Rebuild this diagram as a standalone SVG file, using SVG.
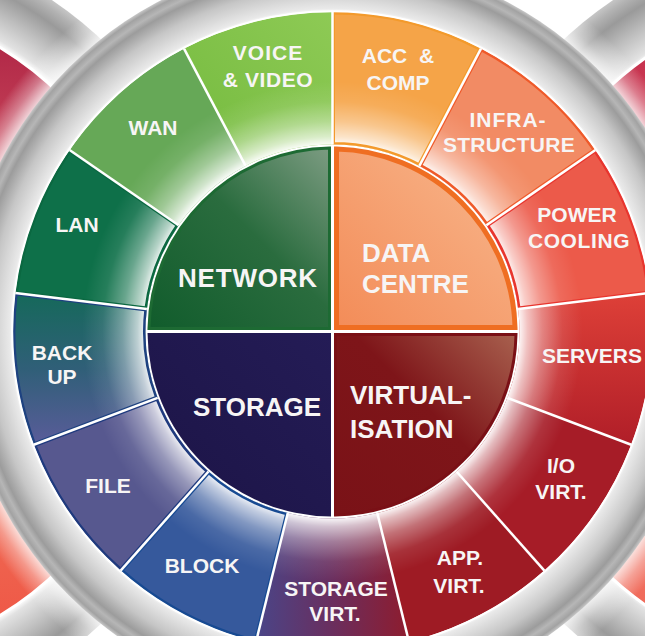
<svg xmlns="http://www.w3.org/2000/svg" xmlns:xlink="http://www.w3.org/1999/xlink" width="645" height="636" viewBox="0 0 645 636">
<style>
.lbl{fill:#F7F5F5;font-family:"Liberation Sans",Arial,Helvetica,sans-serif;font-weight:700;font-size:21px;text-anchor:middle}
.big{fill:#F7F5F5;font-family:"Liberation Sans",Arial,Helvetica,sans-serif;font-weight:700;font-size:26px}
.sep{stroke:#FFFFFF;stroke-width:2.5;fill:none}
.bd{fill:none;stroke-width:5}
</style>
<defs>
<radialGradient id="nbRing" cx="0.5" cy="0.5" r="0.5">
<stop offset="0.83" stop-color="#FFFFFF"/>
<stop offset="0.845" stop-color="#E2E2E2"/>
<stop offset="0.9" stop-color="#BEBEBE"/>
<stop offset="0.95" stop-color="#9A9A9A"/>
<stop offset="0.98" stop-color="#B2B2B2"/>
<stop offset="1" stop-color="#C6C6C6"/>
</radialGradient>
<linearGradient id="nbL" x1="0" y1="0" x2="0" y2="1">
<stop offset="0" stop-color="#A81C40"/>
<stop offset="0.3" stop-color="#D05060"/>
<stop offset="0.7" stop-color="#F07058"/>
<stop offset="1" stop-color="#EE5242"/>
</linearGradient>
<linearGradient id="nbR" x1="0" y1="0" x2="0" y2="1">
<stop offset="0" stop-color="#C02848"/>
<stop offset="0.35" stop-color="#D85060"/>
<stop offset="0.7" stop-color="#F08070"/>
<stop offset="1" stop-color="#F06050"/>
</linearGradient>
<radialGradient id="glow" gradientUnits="userSpaceOnUse" cx="332.5" cy="331.5" r="415">
<stop offset="0" stop-color="#FFFFFF" stop-opacity="1"/>
<stop offset="0.9" stop-color="#FFFFFF" stop-opacity="0.75"/>
<stop offset="0.93" stop-color="#FFFFFF" stop-opacity="0.35"/>
<stop offset="0.97" stop-color="#FFFFFF" stop-opacity="0"/>
</radialGradient>
<radialGradient id="mainRing" gradientUnits="userSpaceOnUse" cx="332.5" cy="331.5" r="373">
<stop offset="0.855" stop-color="#FFFFFF"/>
<stop offset="0.866" stop-color="#E9E9E9"/>
<stop offset="0.92" stop-color="#C6C6C6"/>
<stop offset="0.96" stop-color="#9C9C9C"/>
<stop offset="0.975" stop-color="#B6B6B6"/>
<stop offset="0.99" stop-color="#A2A2A2"/>
<stop offset="1" stop-color="#C8C8C8"/>
</radialGradient>
<radialGradient id="halo" gradientUnits="userSpaceOnUse" cx="332.5" cy="331.5" r="250">
<stop offset="0" stop-color="#FFFFFF" stop-opacity="1"/>
<stop offset="0.748" stop-color="#FFFFFF" stop-opacity="0.95"/>
<stop offset="0.78" stop-color="#FFFFFF" stop-opacity="0.7"/>
<stop offset="0.84" stop-color="#FFFFFF" stop-opacity="0.38"/>
<stop offset="0.92" stop-color="#FFFFFF" stop-opacity="0.1"/>
<stop offset="1" stop-color="#FFFFFF" stop-opacity="0"/>
</radialGradient>
<linearGradient id="gServ" x1="0" y1="0" x2="0" y2="1">
<stop offset="0" stop-color="#DE4038"/>
<stop offset="1" stop-color="#B01E28"/>
</linearGradient>
<linearGradient id="gSV" x1="0" y1="0" x2="1" y2="0">
<stop offset="0" stop-color="#4A4588"/>
<stop offset="0.5" stop-color="#6A2E5E"/>
<stop offset="1" stop-color="#8E1C2E"/>
</linearGradient>
<linearGradient id="gBack" x1="0" y1="0" x2="0" y2="1">
<stop offset="0" stop-color="#15695A"/>
<stop offset="0.5" stop-color="#305F78"/>
<stop offset="1" stop-color="#5A5C9A"/>
</linearGradient>
<linearGradient id="gVoice" x1="0" y1="1" x2="1" y2="0">
<stop offset="0" stop-color="#74BA3E"/>
<stop offset="1" stop-color="#8ECA55"/>
</linearGradient>
<linearGradient id="gNet" x1="0" y1="1" x2="1" y2="0">
<stop offset="0" stop-color="#115C2C"/>
<stop offset="0.55" stop-color="#2A6C3E"/>
<stop offset="1" stop-color="#7C9C82"/>
</linearGradient>
<linearGradient id="gDC" x1="0" y1="1" x2="1" y2="0">
<stop offset="0" stop-color="#F38C58"/>
<stop offset="1" stop-color="#F8B88E"/>
</linearGradient>
<linearGradient id="gVirt" x1="0" y1="1" x2="1" y2="0">
<stop offset="0" stop-color="#7A1217"/>
<stop offset="0.55" stop-color="#7E1519"/>
<stop offset="1" stop-color="#A8604E"/>
</linearGradient>
<linearGradient id="gSto" x1="0" y1="1" x2="1" y2="0">
<stop offset="0" stop-color="#1C1446"/>
<stop offset="1" stop-color="#241C56"/>
</linearGradient>
<path id="s0" d="M332.5,144.5 L332.5,12 A319.5,319.5 0 0 1 480.98,48.6 L419.4,165.92 A187,187 0 0 0 332.5,144.5 Z"/>
<path id="s1" d="M419.4,165.92 L480.98,48.6 A319.5,319.5 0 0 1 595.44,150 L486.4,225.27 A187,187 0 0 0 419.4,165.92 Z"/>
<path id="s2" d="M486.4,225.27 L595.44,150 A319.5,319.5 0 0 1 649.67,292.99 L518.14,308.96 A187,187 0 0 0 486.4,225.27 Z"/>
<path id="s3" d="M518.14,308.96 L649.67,292.99 A319.5,319.5 0 0 1 631.24,444.79 L507.35,397.81 A187,187 0 0 0 518.14,308.96 Z"/>
<path id="s4" d="M507.35,397.81 L631.24,444.79 A319.5,319.5 0 0 1 544.37,570.65 L456.5,471.47 A187,187 0 0 0 507.35,397.81 Z"/>
<path id="s5" d="M456.5,471.47 L544.37,570.65 A319.5,319.5 0 0 1 408.96,641.72 L377.25,513.07 A187,187 0 0 0 456.5,471.47 Z"/>
<path id="s6" d="M377.25,513.07 L408.96,641.72 A319.5,319.5 0 0 1 256.04,641.72 L287.75,513.07 A187,187 0 0 0 377.25,513.07 Z"/>
<path id="s7" d="M287.75,513.07 L256.04,641.72 A319.5,319.5 0 0 1 120.63,570.65 L208.5,471.47 A187,187 0 0 0 287.75,513.07 Z"/>
<path id="s8" d="M208.5,471.47 L120.63,570.65 A319.5,319.5 0 0 1 33.76,444.79 L157.65,397.81 A187,187 0 0 0 208.5,471.47 Z"/>
<path id="s9" d="M157.65,397.81 L33.76,444.79 A319.5,319.5 0 0 1 15.33,292.99 L146.86,308.96 A187,187 0 0 0 157.65,397.81 Z"/>
<path id="s10" d="M146.86,308.96 L15.33,292.99 A319.5,319.5 0 0 1 69.56,150 L178.6,225.27 A187,187 0 0 0 146.86,308.96 Z"/>
<path id="s11" d="M178.6,225.27 L69.56,150 A319.5,319.5 0 0 1 184.02,48.6 L245.6,165.92 A187,187 0 0 0 178.6,225.27 Z"/>
<path id="s12" d="M245.6,165.92 L184.02,48.6 A319.5,319.5 0 0 1 332.5,12 L332.5,144.5 A187,187 0 0 0 245.6,165.92 Z"/>
<clipPath id="c0"><use xlink:href="#s0"/></clipPath>
<clipPath id="c1"><use xlink:href="#s1"/></clipPath>
<clipPath id="c2"><use xlink:href="#s2"/></clipPath>
<clipPath id="c7"><use xlink:href="#s7"/></clipPath>
<clipPath id="c8"><use xlink:href="#s8"/></clipPath>
<clipPath id="c9"><use xlink:href="#s9"/></clipPath>
<clipPath id="c10"><use xlink:href="#s10"/></clipPath>
</defs>

<rect x="0" y="0" width="645" height="636" fill="#FFFFFF"/>

<g id="background">
<circle cx="-172" cy="331.5" r="400" fill="url(#nbRing)"/>
<circle cx="-172" cy="331.5" r="332" fill="url(#nbL)" stroke="#FFFFFF" stroke-width="3"/>
<circle cx="837" cy="331.5" r="400" fill="url(#nbRing)"/>
<circle cx="837" cy="331.5" r="334" fill="url(#nbR)" stroke="#FFFFFF" stroke-width="3"/>
<circle cx="332.5" cy="331.5" r="415" fill="url(#glow)"/>
<circle cx="332.5" cy="331.5" r="373" fill="url(#mainRing)"/>
</g>

<g id="acc-comp">
<use xlink:href="#s0" fill="#F5A448"/>
<use xlink:href="#s0" fill="url(#halo)"/>
<use xlink:href="#s0" class="bd" stroke="#F39A2C" clip-path="url(#c0)"/>
<text class="lbl" x="398" y="63" word-spacing="6">ACC &amp;</text>
<text class="lbl" x="398" y="90">COMP</text>
</g>
<g id="infrastructure">
<use xlink:href="#s1" fill="#F28B64"/>
<use xlink:href="#s1" fill="url(#halo)"/>
<use xlink:href="#s1" class="bd" stroke="#EF5A2A" clip-path="url(#c1)"/>
<text class="lbl" x="508" y="127" letter-spacing="1">INFRA-</text>
<text class="lbl" x="509" y="152" letter-spacing="0.3">STRUCTURE</text>
</g>
<g id="power-cooling">
<use xlink:href="#s2" fill="#EC5A4A"/>
<use xlink:href="#s2" fill="url(#halo)"/>
<use xlink:href="#s2" class="bd" stroke="#E8352E" clip-path="url(#c2)"/>
<text class="lbl" x="577" y="222">POWER</text>
<text class="lbl" x="579" y="248" letter-spacing="0.6">COOLING</text>
</g>
<g id="servers">
<use xlink:href="#s3" fill="url(#gServ)"/>
<use xlink:href="#s3" fill="url(#halo)"/>
<text class="lbl" x="542" y="363" style="text-anchor:start">SERVERS</text>
</g>
<g id="io-virt">
<use xlink:href="#s4" fill="#A61C27"/>
<use xlink:href="#s4" fill="url(#halo)"/>
<text class="lbl" x="561" y="473">I/O</text>
<text class="lbl" x="561" y="499">VIRT.</text>
</g>
<g id="app-virt">
<use xlink:href="#s5" fill="#9E1B24"/>
<use xlink:href="#s5" fill="url(#halo)"/>
<text class="lbl" x="460" y="565" font-size="20">APP.</text>
<text class="lbl" x="459" y="593" font-size="20">VIRT.</text>
</g>
<g id="storage-virt">
<use xlink:href="#s6" fill="url(#gSV)"/>
<use xlink:href="#s6" fill="url(#halo)"/>
<text class="lbl" x="336" y="596">STORAGE</text>
<text class="lbl" x="335" y="621">VIRT.</text>
</g>
<g id="block">
<use xlink:href="#s7" fill="#36599C"/>
<use xlink:href="#s7" fill="url(#halo)"/>
<use xlink:href="#s7" class="bd" stroke="#174A92" clip-path="url(#c7)"/>
<text class="lbl" x="202" y="573">BLOCK</text>
</g>
<g id="file">
<use xlink:href="#s8" fill="#57588F"/>
<use xlink:href="#s8" fill="url(#halo)"/>
<use xlink:href="#s8" class="bd" stroke="#1F3A7E" clip-path="url(#c8)"/>
<text class="lbl" x="108" y="493">FILE</text>
</g>
<g id="back-up">
<use xlink:href="#s9" fill="url(#gBack)"/>
<use xlink:href="#s9" fill="url(#halo)"/>
<use xlink:href="#s9" class="bd" stroke="#1E4280" clip-path="url(#c9)"/>
<text class="lbl" x="62" y="360">BACK</text>
<text class="lbl" x="62" y="384">UP</text>
</g>
<g id="lan">
<use xlink:href="#s10" fill="#0E7049"/>
<use xlink:href="#s10" fill="url(#halo)"/>
<use xlink:href="#s10" class="bd" stroke="#0B6841" clip-path="url(#c10)"/>
<text class="lbl" x="77" y="232">LAN</text>
</g>
<g id="wan">
<use xlink:href="#s11" fill="#66A857"/>
<use xlink:href="#s11" fill="url(#halo)"/>
<text class="lbl" x="153" y="135">WAN</text>
</g>
<g id="voice-video">
<use xlink:href="#s12" fill="url(#gVoice)"/>
<use xlink:href="#s12" fill="url(#halo)"/>
<text class="lbl" x="268" y="60" letter-spacing="1">VOICE</text>
<text class="lbl" x="268" y="87" letter-spacing="0.6">&amp; VIDEO</text>
</g>

<g id="separators">
<line class="sep" x1="332.5" y1="144.5" x2="332.5" y2="12"/>
<line class="sep" x1="419.4" y1="165.92" x2="480.98" y2="48.6"/>
<line class="sep" x1="486.4" y1="225.27" x2="595.44" y2="150"/>
<line class="sep" x1="518.14" y1="308.96" x2="649.67" y2="292.99"/>
<line class="sep" x1="507.35" y1="397.81" x2="631.24" y2="444.79"/>
<line class="sep" x1="456.5" y1="471.47" x2="544.37" y2="570.65"/>
<line class="sep" x1="377.25" y1="513.07" x2="408.96" y2="641.72"/>
<line class="sep" x1="287.75" y1="513.07" x2="256.04" y2="641.72"/>
<line class="sep" x1="208.5" y1="471.47" x2="120.63" y2="570.65"/>
<line class="sep" x1="157.65" y1="397.81" x2="33.76" y2="444.79"/>
<line class="sep" x1="146.86" y1="308.96" x2="15.33" y2="292.99"/>
<line class="sep" x1="178.6" y1="225.27" x2="69.56" y2="150"/>
<line class="sep" x1="245.6" y1="165.92" x2="184.02" y2="48.6"/>
<circle cx="332.5" cy="331.5" r="320.3" fill="none" stroke="#FFFFFF" stroke-width="2"/>
</g>

<g id="network">
<path d="M329.5,328.5 L329.5,148 A183.5,183.5 0 0 0 149,328.5 Z" fill="url(#gNet)" stroke="#1D6A33" stroke-width="3"/>
<text class="big" x="248" y="287" text-anchor="middle" letter-spacing="0.8">NETWORK</text>
</g>
<g id="data-centre">
<path d="M336.5,327.5 L336.5,149 A182.5,182.5 0 0 1 515,327.5 Z" fill="url(#gDC)" stroke="#EF6E22" stroke-width="5"/>
<text class="big" x="362" y="262">DATA</text>
<text class="big" x="362" y="293">CENTRE</text>
</g>
<g id="storage">
<path d="M331,333 L331,516.5 A185,185 0 0 1 147.5,333 Z" fill="url(#gSto)"/>
<text class="big" x="257" y="416" text-anchor="middle">STORAGE</text>
</g>
<g id="virtualisation">
<path d="M335.5,334.5 L516,334.5 A183.5,183.5 0 0 1 335.5,515 Z" fill="url(#gVirt)" stroke="#7A1016" stroke-width="3"/>
<text class="big" x="350" y="404">VIRTUAL-</text>
<text class="big" x="350" y="438">ISATION</text>
</g>
</svg>
